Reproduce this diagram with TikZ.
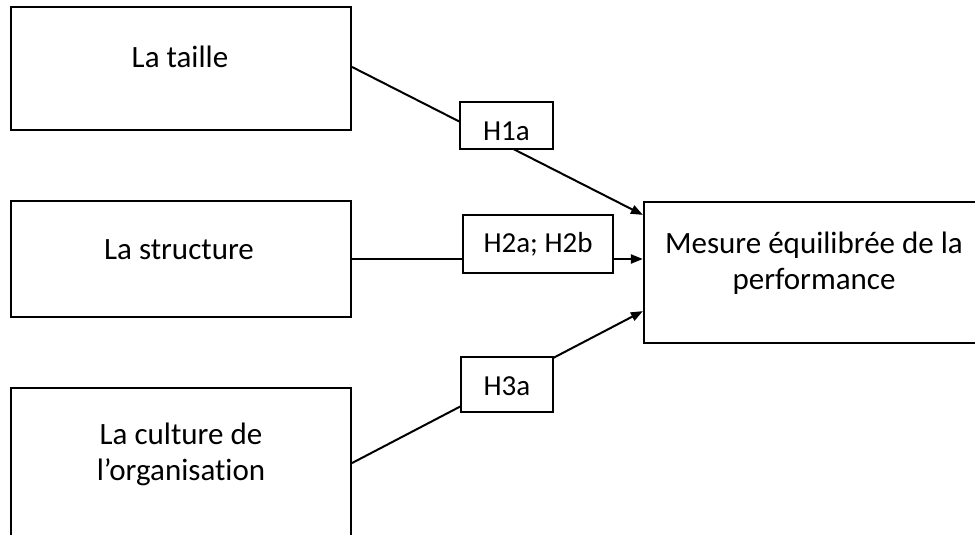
\documentclass[tikz,border=0pt]{standalone}
\usepackage{fontspec}
\setmainfont{Carlito}[Ligatures=NoCommon]
\usetikzlibrary{arrows.meta}
\begin{document}
\begin{tikzpicture}[x=1pt,y=-1pt,
  bigbox/.style={draw,line width=2.2pt,minimum width=340pt,inner sep=0pt},
  boxtext/.style={font=\fontsize{31}{36}\selectfont,align=center,inner sep=0pt},
  hyp/.style={draw,line width=1.5pt,fill=white,inner sep=0pt,text depth=0pt,font=\fontsize{29}{34}\selectfont},
  link/.style={line width=2pt},
  arr/.style={line width=2pt,-{Triangle[length=12pt,width=9pt]}}]
\useasboundingbox (0,0) rectangle (975,535);
\clip (0,0) rectangle (975,535);
% boxes
\node[bigbox,minimum height=123pt] (b1) at (181,68.5) {};
\node[bigbox,minimum height=116pt] (b2) at (181,259) {};
\node[bigbox,minimum height=162pt] (b3) at (181,469) {};
\node[bigbox,minimum width=341pt,minimum height=141pt] (m) at (814.5,272.5) {};
% box texts
\node[boxtext,anchor=base] (t1) at (180,68) {La taille};
\node[boxtext,anchor=base] (t2) at (179,259) {La structure};
\node[boxtext] (t3) at (181,454) {La culture de\\l’organisation};
\node[boxtext] (t4) at (814,263) {Mesure équilibrée de la\\performance};
% connectors
\draw[arr] ([yshift=1.5pt]b1.east) -- ([yshift=-14pt]m.north west);
\draw[arr] (b2.east) -- (m.west |- b2.east);
\draw[arr] ([yshift=6pt]b3.east) -- ([yshift=33pt]m.south west);
% hypothesis labels
\node[hyp,minimum width=93pt,minimum height=47pt,text height=29pt] (h1) at (506.5,125.5) {H1a};
\node[hyp,minimum width=150pt,minimum height=58pt,text height=17.4pt] (h2) at (538,244) {H2a; H2b};
\node[hyp,minimum width=92pt,minimum height=55pt,text height=21pt] (h3) at (507,384.5) {H3a};
\end{tikzpicture}
\end{document}
